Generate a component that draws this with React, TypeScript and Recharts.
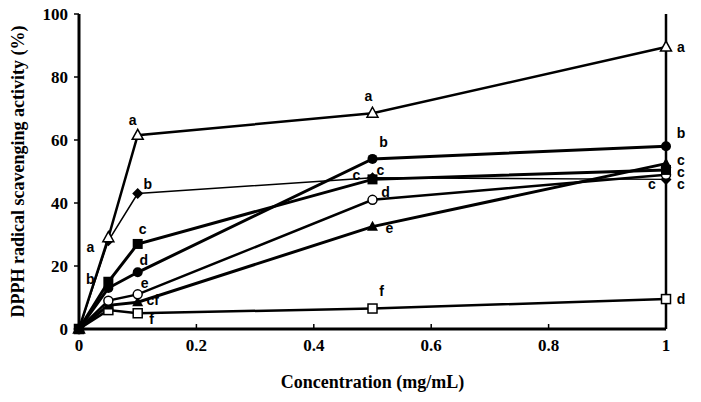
import React from "react";
import { LineChart, Line, XAxis, YAxis, ReferenceLine } from "recharts";

// Concentrations tested (mg/mL)
const conc = [0, 0.05, 0.1, 0.5, 1];

// DPPH radical scavenging activity (%) for each sample
const triangleOpen = [0, 29, 61.5, 68.5, 89.5];
const diamondFilled = [0, 28, 43, 48, 47.5];
const squareFilled = [0, 15, 27, 47.5, 50.5];
const circleFilled = [0, 13, 18, 54, 58];
const circleOpen = [0, 9, 11, 41, 49];
const triangleFilled = [0, 7.5, 8.5, 32.5, 52.5];
const squareOpen = [0, 6, 5, 6.5, 9.5];

// Significance letters per point
const lettersTriangleOpen = ["", "a", "a", "a", "a"];
const lettersDiamondFilled = ["", "", "b", "c", "c"];
const lettersSquareFilled = ["", "b", "c", "c", "c"];
const lettersCircleFilled = ["", "", "d", "b", "b"];
const lettersCircleOpen = ["", "", "e", "d", "c"];
const lettersTriangleFilled = ["", "", "cf", "e", "c"];
const lettersSquareOpen = ["", "", "f", "f", "d"];

const yTicks = [0, 20, 40, 60, 80, 100];
const xTicks = [0, 0.2, 0.4, 0.6, 0.8, 1];

// Letter placement relative to each marker (dx, dy)
const letterOffsets: Record<string, [number, number][]> = {
  triangleOpen: [[0, 0], [-18, 9], [-5, -15], [-4, -17], [15, 0]],
  diamondFilled: [[0, 0], [0, 0], [10, -10], [-16, -3], [-14, 5]],
  squareFilled: [[0, 0], [-18, -3], [5, -15], [8, -9], [15, 2]],
  circleFilled: [[0, 0], [0, 0], [6, -12], [11, -17], [15, -13]],
  circleOpen: [[0, 0], [0, 0], [7, -11], [13, -8], [15, 9]],
  triangleFilled: [[0, 0], [0, 0], [15, -2], [17, 1], [15, -4]],
  squareOpen: [[0, 0], [0, 0], [14, 6], [9, -18], [15, 0]],
};

const toPoints = (values: number[], letters: string[]) =>
  conc.map((x, i) => ({ x, y: values[i], letter: letters[i] }));

type Shape =
  | "triangleOpen"
  | "diamondFilled"
  | "squareFilled"
  | "circleFilled"
  | "circleOpen"
  | "triangleFilled"
  | "squareOpen";

const drawMarker = (shape: Shape, cx: number, cy: number) => {
  switch (shape) {
    case "triangleOpen":
      return (
        <polygon
          points={`${cx},${cy - 6} ${cx - 5.5},${cy + 4} ${cx + 5.5},${cy + 4}`}
          fill="#fff"
          stroke="#000"
          strokeWidth={1.5}
        />
      );
    case "triangleFilled":
      return (
        <polygon
          points={`${cx},${cy - 6} ${cx - 5.5},${cy + 4} ${cx + 5.5},${cy + 4}`}
          fill="#000"
        />
      );
    case "diamondFilled":
      return (
        <polygon
          points={`${cx},${cy - 5.5} ${cx + 5.5},${cy} ${cx},${cy + 5.5} ${cx - 5.5},${cy}`}
          fill="#000"
        />
      );
    case "squareFilled":
      return <rect x={cx - 5} y={cy - 5} width={10} height={10} fill="#000" />;
    case "squareOpen":
      return (
        <rect
          x={cx - 4.5}
          y={cy - 4.5}
          width={9}
          height={9}
          fill="#fff"
          stroke="#000"
          strokeWidth={1.5}
        />
      );
    case "circleFilled":
      return <circle cx={cx} cy={cy} r={5} fill="#000" />;
    case "circleOpen":
      return <circle cx={cx} cy={cy} r={4.5} fill="#fff" stroke="#000" strokeWidth={1.5} />;
  }
};

const makeDot = (shape: Shape) => (props: any) => {
  const { cx, cy, index, payload } = props;
  const [dx, dy] = letterOffsets[shape][index] || [0, 0];
  return (
    <g key={`${shape}-${index}`}>
      {drawMarker(shape, cx, cy)}
      {payload.letter ? (
        <text
          x={cx + dx}
          y={cy + dy}
          textAnchor="middle"
          dominantBaseline="central"
          fontFamily="Liberation Sans, Arial, sans-serif"
          fontWeight="bold"
          fontSize={14}
          fill="#000"
        >
          {payload.letter}
        </text>
      ) : null}
    </g>
  );
};

const series: { shape: Shape; values: number[]; letters: string[]; width: number }[] = [
  { shape: "squareOpen", values: squareOpen, letters: lettersSquareOpen, width: 2.5 },
  { shape: "diamondFilled", values: diamondFilled, letters: lettersDiamondFilled, width: 1.5 },
  { shape: "triangleFilled", values: triangleFilled, letters: lettersTriangleFilled, width: 3 },
  { shape: "circleOpen", values: circleOpen, letters: lettersCircleOpen, width: 2.5 },
  { shape: "circleFilled", values: circleFilled, letters: lettersCircleFilled, width: 3 },
  { shape: "triangleOpen", values: triangleOpen, letters: lettersTriangleOpen, width: 2.5 },
  { shape: "squareFilled", values: squareFilled, letters: lettersSquareFilled, width: 3 },
];

const serif = "Liberation Serif, Times New Roman, serif";

// Bottom tick: short inward tick mark plus the label beneath the axis
const XTick = (props: any) => {
  const { x, y, payload } = props;
  const axisY = y - 11;
  return (
    <g>
      <line x1={x} x2={x} y1={axisY} y2={axisY - 4} stroke="#000" strokeWidth={1.5} />
      <text
        x={x}
        y={y}
        dy="0.71em"
        textAnchor="middle"
        fontFamily={serif}
        fontWeight="bold"
        fontSize={17}
        fill="#000"
      >
        {payload.value}
      </text>
    </g>
  );
};

export default function App() {
  return (
    <div style={{ position: "absolute", left: 0, top: 0, background: "#fff" }}>
      <LineChart
        width={701}
        height={402}
        margin={{ top: 14, right: 35, bottom: 28, left: 30 }}
      >
        <XAxis
          dataKey="x"
          type="number"
          domain={[0, 1]}
          ticks={xTicks}
          allowDuplicatedCategory={false}
          axisLine={{ stroke: "#000", strokeWidth: 3 }}
          tickLine={false}
          tickSize={0}
          tickMargin={10}
          tick={<XTick />}
          height={45}
          label={{
            value: "Concentration (mg/mL)",
            position: "insideBottom",
            offset: -14,
            style: {
              fontFamily: serif,
              fontWeight: "bold",
              fontSize: 18,
              fill: "#000",
            },
          }}
        />
        <YAxis
          type="number"
          domain={[0, 100]}
          ticks={yTicks}
          width={49}
          axisLine={{ stroke: "#000", strokeWidth: 3 }}
          tickLine={{ stroke: "#000", strokeWidth: 1.5 }}
          tickSize={5}
          tickMargin={6}
          tick={{ fontFamily: serif, fontWeight: "bold", fontSize: 17, fill: "#000" }}
          label={{
            value: "DPPH radical scavenging activity (%)",
            angle: -90,
            position: "insideLeft",
            offset: -12,
            style: {
              textAnchor: "middle",
              fontFamily: serif,
              fontWeight: "bold",
              fontSize: 18,
              fill: "#000",
            },
          }}
        />
        <ReferenceLine x={1} stroke="#000" strokeWidth={2.5} ifOverflow="extendDomain" />
        {series.map((s) => (
          <Line
            key={s.shape}
            data={toPoints(s.values, s.letters)}
            dataKey="y"
            type="linear"
            stroke="#000"
            strokeWidth={s.width}
            dot={makeDot(s.shape)}
            activeDot={false}
            isAnimationActive={false}
          />
        ))}
      </LineChart>
    </div>
  );
}
